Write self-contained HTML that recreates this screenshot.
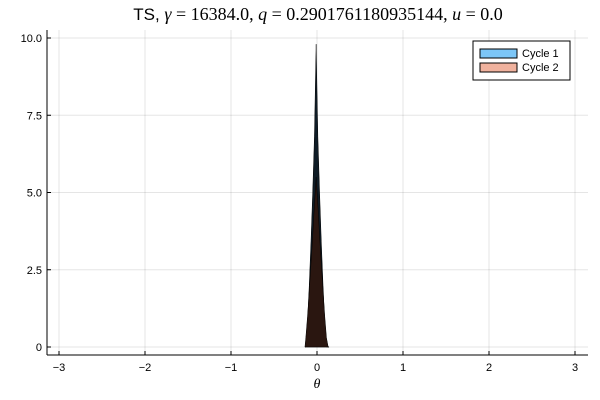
<!DOCTYPE html>
<html><head><meta charset="utf-8"><style>
body{margin:0;background:#fff;}
svg{display:block;font-family:"Liberation Sans",sans-serif;}
</style></head><body>
<svg width="600" height="400">
<text x="318" y="20" text-anchor="middle" font-size="17">TS, <tspan font-family="Liberation Serif" font-style="italic" font-size="18">γ</tspan><tspan font-family="Liberation Serif" font-size="18"> = 16384.0, </tspan><tspan font-family="Liberation Serif" font-style="italic" font-size="18">q</tspan><tspan font-family="Liberation Serif" font-size="18"> = 0.2901761180935144, </tspan><tspan font-family="Liberation Serif" font-style="italic" font-size="18">u</tspan><tspan font-family="Liberation Serif" font-size="18"> = 0.0</tspan></text>
<g id="grid"></g>
<g id="bars"></g>
<g id="axes"></g>
<g>
<rect x="473" y="41" width="97" height="39" fill="#fff" stroke="#000" stroke-width="1"/>
<rect x="480" y="49" width="37" height="9" fill="#7cc6f7" stroke="#000"/>
<text x="522" y="57" font-size="11">Cycle 1</text>
<rect x="480" y="63" width="37" height="9" fill="#f0b29e" stroke="#000"/>
<text x="522" y="71" font-size="11">Cycle 2</text>
</g>
<text x="317" y="388" text-anchor="middle" font-size="14" font-family="Liberation Serif" font-style="italic">θ</text>
</svg>
<script>
const binEdgesStart = -0.14;
const binWidth = 0.02;
const cycle1Values = [0, 0.8, 2.0, 3.4, 5.0, 6.8, 9.8, 6.8, 5.0, 3.4, 2.0, 0.8, 0, 0];
const cycle2Values = [0.3, 1.0, 1.8, 2.7, 3.6, 4.6, 5.5, 4.6, 3.6, 2.7, 1.8, 1.0, 0.3, 0];
const xTicks = [-3, -2, -1, 0, 1, 2, 3];
const yTicks = [0, 2.5, 5.0, 7.5, 10.0];
const yTickLabels = ["0", "2.5", "5.0", "7.5", "10.0"];
const NS = "http://www.w3.org/2000/svg";
const L = 47, R = 588, T = 30, B = 355;
const xs = v => 317 + v * 86;
const ys = v => 347 - v * 30.9;
function mk(tag, attrs, parent) {
  const e = document.createElementNS(NS, tag);
  for (const k in attrs) e.setAttribute(k, attrs[k]);
  document.getElementById(parent).appendChild(e);
  return e;
}
xTicks.forEach(t => {
  const g = mk("line", {x1: xs(t), x2: xs(t), y1: T, y2: B, stroke: "#000", "stroke-opacity": 0.1}, "grid");
  
  
  const tk = mk("line", {x1: xs(t), x2: xs(t), y1: B, y2: B - 4, stroke: "#000"}, "axes");
  
  
  const lb = mk("text", {x: xs(t), y: 371, "text-anchor": "middle", "font-size": 11}, "axes");
  lb.textContent = (t < 0 ? "−" + (-t) : String(t));
  
  
});
yTicks.forEach((t, i) => {
  const g = mk("line", {x1: L, x2: R, y1: ys(t), y2: ys(t), stroke: "#000", "stroke-opacity": 0.1}, "grid");
  
  
  const tk = mk("line", {x1: L, x2: L + 4, y1: ys(t), y2: ys(t), stroke: "#000"}, "axes");
  
  
  const lb = mk("text", {x: L - 5, y: ys(t) + 4, "text-anchor": "end", "font-size": 11}, "axes");
  lb.textContent = yTickLabels[i];
  
  
});
const ax1 = mk("line", {x1: L, x2: R, y1: B, y2: B, stroke: "#000"}, "axes");


const ax2 = mk("line", {x1: L, x2: L, y1: T, y2: B, stroke: "#000"}, "axes");


function drawSeries(vals, fill, name) {
  let d = "M" + xs(binEdgesStart) + "," + ys(0);
  vals.forEach((v, i) => {
    const xc = binEdgesStart + (i + 0.5) * binWidth;
    d += " L" + xs(xc) + "," + ys(v);
  });
  d += " L" + xs(binEdgesStart + vals.length * binWidth) + "," + ys(0) + " Z";
  const p = mk("path", {d: d, fill: fill, stroke: "#000", "stroke-width": 0.5}, "bars");
  
  
}
drawSeries(cycle1Values, "#0f1c26", "cycle-1-histogram");
drawSeries(cycle2Values, "#2a1610", "cycle-2-histogram");
</script>
</body></html>
